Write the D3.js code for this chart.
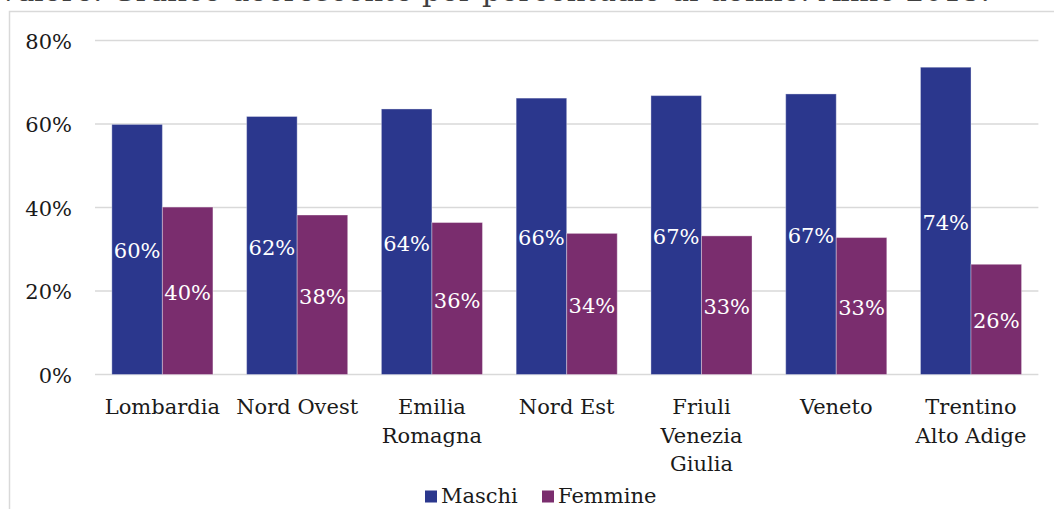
<!DOCTYPE html>
<html>
<head>
<meta charset="utf-8">
<script src="https://cdn.jsdelivr.net/npm/d3@7"></script>
<style>
  html, body { margin: 0; padding: 0; background: #fff; overflow: hidden; }
  svg { display: block; font-family: "DejaVu Serif", serif; }
</style>
</head>
<body>
<div id="chart"></div>
<script>
// data
const categories = ["Lombardia", "Nord Ovest", "Emilia Romagna", "Nord Est", "Friuli Venezia Giulia", "Veneto", "Trentino Alto Adige"];
const categoryLines = [["Lombardia"], ["Nord Ovest"], ["Emilia", "Romagna"], ["Nord Est"], ["Friuli", "Venezia", "Giulia"], ["Veneto"], ["Trentino", "Alto Adige"]];
const seriesNames = ["Maschi", "Femmine"];
const maschi = [59.9, 61.8, 63.6, 66.2, 66.8, 67.2, 73.6];
const femmine = [40.1, 38.2, 36.4, 33.8, 33.2, 32.8, 26.4];
const yTicks = [0, 20, 40, 60, 80];
const titleText = "valore. Grafico decrescente per percentuale di donne. Anno 2015.";

const W = 1054, H = 509;
const colors = { Maschi: "#2b378d", Femmine: "#7a2d6e" };

const svg = d3.select("#chart").append("svg")
    .attr("width", W)
    .attr("height", H);

// caption above the chart frame, cut by the top edge as in the source
svg.append("text")
    .attr("x", 0)
    .attr("y", 1)
    .attr("textLength", 990)
    .attr("lengthAdjust", "spacingAndGlyphs")
    .style("font-size", "27px")
    .style("fill", "#404040")
    .text(titleText);

// chart frame (only left and top edges are visible)
svg.append("path")
    .attr("d", `M9.5,${H} V11.5 H${W}`)
    .attr("fill", "none")
    .attr("stroke", "#d9d9d9")
    .attr("stroke-width", 1.5);

const x = d3.scaleBand()
    .domain(categories)
    .range([95, 1038.4])
    .paddingInner(0.25)
    .paddingOuter(0.125);

const xs = d3.scaleBand()
    .domain(seriesNames)
    .range([0, x.bandwidth()]);

const y = d3.scaleLinear()
    .domain([0, 80])
    .range([374.5, 40.5]);

// gridlines
svg.append("g")
    .selectAll("line")
    .data(yTicks)
    .enter().append("line")
    .attr("x1", 95)
    .attr("x2", 1038.4)
    .attr("y1", d => y(d))
    .attr("y2", d => y(d))
    .attr("stroke", "#d9d9d9")
    .attr("stroke-width", 1.5);

// y axis labels
svg.append("g")
    .selectAll("text")
    .data(yTicks)
    .enter().append("text")
    .attr("x", 72)
    .attr("y", d => y(d))
    .attr("dy", "0.4em")
    .attr("text-anchor", "end")
    .style("font-size", "21px")
    .style("fill", "#1a1a1a")
    .text(d => d + "%");

const rows = categories.map((c, i) => ({ cat: c, Maschi: maschi[i], Femmine: femmine[i] }));

const groups = svg.append("g")
    .selectAll("g")
    .data(rows)
    .enter().append("g")
    .attr("transform", d => `translate(${x(d.cat)},0)`);

const bars = groups.selectAll("g")
    .data(d => seriesNames.map(s => ({ key: s, value: d[s] })))
    .enter().append("g");

bars.append("rect")
    .attr("x", d => xs(d.key))
    .attr("width", xs.bandwidth())
    .attr("y", d => y(d.value))
    .attr("height", d => y(0) - y(d.value))
    .attr("fill", d => colors[d.key])
    .attr("stroke", "rgba(255,255,255,0.35)")
    .attr("stroke-width", 1);

bars.append("text")
    .attr("x", d => xs(d.key) + xs.bandwidth() / 2)
    .attr("y", d => (y(d.value) + y(0)) / 2)
    .attr("dy", "0.43em")
    .attr("text-anchor", "middle")
    .style("font-size", "21px")
    .style("fill", "#fff")
    .text(d => Math.round(d.value) + "%");

// category labels
const catLabels = svg.append("g")
    .selectAll("text")
    .data(categories)
    .enter().append("text")
    .attr("x", d => x(d) + x.bandwidth() / 2)
    .attr("y", 414)
    .attr("text-anchor", "middle")
    .style("font-size", "21px")
    .style("fill", "#1a1a1a");

catLabels.each(function(d, i) {
    const t = d3.select(this);
    categoryLines[i].forEach((line, j) => {
        t.append("tspan")
            .attr("x", x(d) + x.bandwidth() / 2)
            .attr("y", 414 + j * 28.5)
            .text(line);
    });
});

// legend
const legendItems = [{ name: "Maschi", x: 425 }, { name: "Femmine", x: 542 }];
const legend = svg.append("g")
    .selectAll("g")
    .data(legendItems)
    .enter().append("g")
    .attr("transform", d => `translate(${d.x},0)`);

legend.append("rect")
    .attr("x", 0)
    .attr("y", 490.5)
    .attr("width", 12)
    .attr("height", 12)
    .attr("fill", d => colors[d.name]);

legend.append("text")
    .attr("x", 16)
    .attr("y", 503)
    .style("font-size", "21px")
    .style("fill", "#1a1a1a")
    .text(d => d.name);
</script>
</body>
</html>
